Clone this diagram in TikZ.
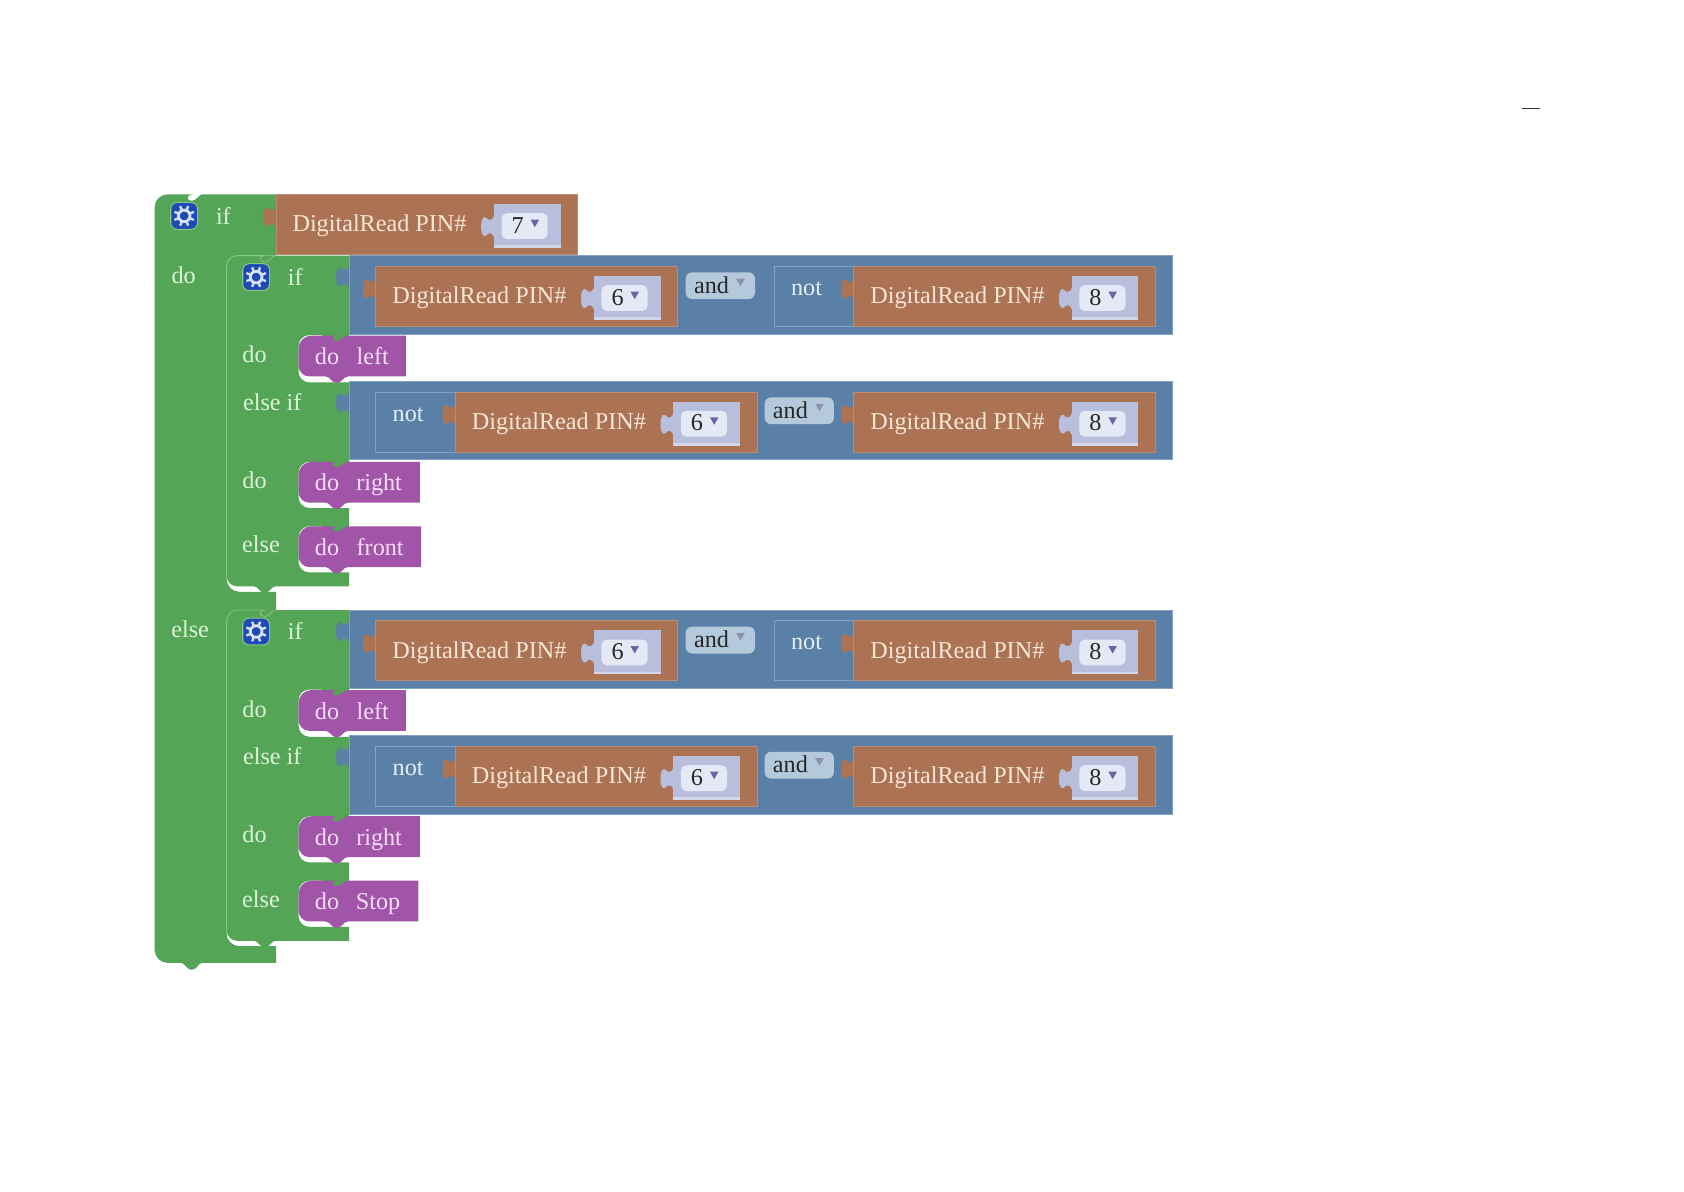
\documentclass[tikz,border=0pt]{standalone}
\usepackage{fontspec}
\setmainfont{Liberation Serif}
\definecolor{gr}{HTML}{54A556}
\definecolor{grl}{HTML}{86C586}
\definecolor{grt}{HTML}{DDF3D8}
\definecolor{bl}{HTML}{5A80A8}
\definecolor{bll}{HTML}{7FA2C6}
\definecolor{blt}{HTML}{E3EDF7}
\definecolor{br}{HTML}{AC7254}
\definecolor{brl}{HTML}{B98C74}
\definecolor{brt}{HTML}{F8E6D6}
\definecolor{pu}{HTML}{A055A8}
\definecolor{put}{HTML}{F6DDF8}
\definecolor{fld}{HTML}{B8BFDD}
\definecolor{fldl}{HTML}{D2D7EC}
\definecolor{fldw}{HTML}{E4E9F5}
\definecolor{andc}{HTML}{B5C9DC}
\definecolor{gear}{HTML}{1F49B5}
\definecolor{gearw}{HTML}{D5E2F6}
\tikzset{
  x=0.5pt,y=-0.5pt,
  lbl/.style={inner sep=0pt,anchor=base,font=\fontsize{11.26}{13}\selectfont},
  grlbl/.style={lbl,text=grt},
  brlbl/.style={lbl,anchor=base west,text=brt},
  bllbl/.style={lbl,text=blt},
  pulbl/.style={lbl,text=put},
  blklbl/.style={lbl,text=black!85},
  edge/.style={line width=0.4pt}
}
\newcommand{\vtab}[3]{% colour, x, y
  \fill[#1] (#2,#3) .. controls (#2-1,#3+4) and (#2-5,#3+5) .. (#2-7,#3+2)
     .. controls (#2-9,#3) and (#2-12,#3+1) .. (#2-12,#3+10)
     .. controls (#2-12,#3+19) and (#2-9,#3+20) .. (#2-7,#3+18)
     .. controls (#2-5,#3+15) and (#2-1,#3+16) .. (#2,#3+20) -- cycle;
}
\newcommand{\brownblk}[4]{%
  \vtab{br}{#2}{#3+11}
  \fill[br,draw=brl,edge] (#2,#3) rectangle (#2+281,#3+56);
  \node[brlbl] (#1txt) at (#2+15,#3+34.7) {DigitalRead PIN\#};
  \vtab{fld}{#2+203}{#3+20}
  \fill[fld] (#2+203,#3+9) rectangle (#2+265,#3+50);
  \fill[fldl] (#2+203,#3+47.5) rectangle (#2+265,#3+50);
  \fill[fldw,rounded corners=2.5pt] (#2+210,#3+17.5) rectangle (#2+253,#3+41.5);
  \node[blklbl] (#1val) at (#2+225,#3+36) {#4};
  \fill[black!55!blue!60!white] (#2+237,#3+23.5) -- (#2+245,#3+23.5) -- (#2+241,#3+30.5) -- cycle;
}
\newcommand{\notblk}[3]{%
  \vtab{bl}{#2}{#3+10}
  \fill[bl,draw=bll,edge] (#2,#3) rectangle (#2+74,#3+56);
  \node[bllbl] (#1txt) at (#2+30,#3+27) {not};
}
\newcommand{\andblk}[3]{%
  \fill[andc,rounded corners=3pt] (#2,#3) rectangle (#2+64.5,#3+25);
  \node[blklbl] (#1txt) at (#2+24,#3+19.5) {and};
  \fill[black!15!blue!25!gray!70] (#2+47,#3+6) -- (#2+55,#3+6) -- (#2+51,#3+13) -- cycle;
}
\newcommand{\bluebar}[2]{%
  \vtab{bl}{325}{#2+10}
  \fill[bl,draw=bll,edge] (325,#2) rectangle (1092,#2+73);
}
\newcommand{\purple}[5]{% name, y, right, text, textx
  \fill[gr] (300,#2-1) rectangle (325,#2+7);
  \fill[pu,rounded corners=6pt] (278,#2+19) -- (278,#2) -- (303,#2) [sharp corners]
    .. controls (307.5,#2) and (308.5,#2+5) .. (313.5,#2+5)
    .. controls (318.5,#2+5) and (319.5,#2) .. (324,#2)
    -- (#3,#2) -- (#3,#2+38) -- (324,#2+38)
    .. controls (319.5,#2+38) and (318.5,#2+44) .. (313.5,#2+44)
    .. controls (308.5,#2+44) and (307.5,#2+38) .. (303,#2+38)
    [rounded corners=5pt] -- (278,#2+38) -- cycle;
  \node[pulbl] (#1do) at (304.5,#2+27) {do};
  \node[pulbl] (#1txt) at (#5,#2+27) {#4};
}
\newcommand{\gearicon}[3]{%
  \node[draw=grl,fill=gear,rounded corners=3pt,minimum size=12.5pt,inner sep=0pt,line width=0.5pt] (#1) at (#2,#3) {};
  \foreach \a in {0,45,...,315}{\draw[gearw,line width=1.1pt] (#2,#3) ++(\a+22.5:6) -- ++(\a+22.5:3.8);}
  \draw[gearw,line width=1.3pt] (#2,#3) circle[radius=2.7pt];
}
\newcommand{\innerif}[4]{% prefix, last text, last right, last textx
  \fill[gr] (205,232) rectangle (225,250);
  \fill[gr,rounded corners=5pt] (211,400) -- (211,238) -- (236.5,238) [sharp corners]
    -- (325,238) -- (325,312) -- (285,312) [rounded corners=5pt] -- (278,312) -- (278,356) [sharp corners]
    -- (325,356) -- (325,430) -- (285,430) [rounded corners=5pt] -- (278,430) -- (278,473) [sharp corners]
    -- (325,473) -- (325,490) -- (285,490) [rounded corners=5pt] -- (278,490) -- (278,533) [sharp corners]
    -- (325,533) -- (325,546) -- (256.5,546)
    .. controls (252.5,546) and (251.5,552) .. (246.5,552)
    .. controls (241.5,552) and (240.5,546) .. (236.5,546)
    [rounded corners=5pt] -- (211,546) -- cycle;
  \draw[grl,edge,rounded corners=5pt] (211,536) -- (211,238) -- (236.5,238) [sharp corners]
    .. controls (240.5,238) and (241.5,244) .. (246.5,244)
    .. controls (251.5,244) and (252.5,238) .. (256.5,238);
  \gearicon{#1gear}{238.5}{258}
  \node[grlbl] (#1if) at (275,265.6) {if};
  \node[grlbl] (#1doa) at (237,337.8) {do};
  \node[grlbl] (#1elif) at (253.5,381.8) {else if};
  \node[grlbl] (#1dob) at (237,454.8) {do};
  \node[grlbl] (#1else) at (243,514.8) {else};
  \bluebar{#1a}{238}
  \brownblk{#1ab}{350}{248}{6}
  \andblk{#1aa}{638.5}{253.5}
  \notblk{#1an}{721}{248}
  \brownblk{#1ac}{795}{248}{8}
  \bluebar{#1b}{355}
  \notblk{#1bn}{350}{365}
  \brownblk{#1bb}{424}{365}{6}
  \andblk{#1ba}{712}{370}
  \brownblk{#1bc}{795}{365}{8}
  \purple{#1pa}{312.5}{378}{left}{347}
  \purple{#1pb}{430}{391}{right}{353}
  \purple{#1pc}{490}{#3}{#2}{#4}
}
\begin{document}
\begin{tikzpicture}
\useasboundingbox (0,0) rectangle (1568,1109);
\fill[white] (0,0) rectangle (1568,1109);
% outer block
\fill[gr,rounded corners=6pt] (144,500) -- (144,181) -- (168.5,181) [sharp corners]
  .. controls (172.5,181) and (173.5,187) .. (178.5,187)
  .. controls (183.5,187) and (184.5,181) .. (188.5,181)
  -- (257,181) -- (257,238) -- (220,238) [rounded corners=6pt] -- (211,238) -- (211,551) [sharp corners]
  -- (257,551) -- (257,568) -- (220,568) [rounded corners=6pt] -- (211,568) -- (211,881) [sharp corners]
  -- (257,881) -- (257,896.5) -- (188.5,896.5)
  .. controls (184.5,896.5) and (183.5,903) .. (178.5,903)
  .. controls (173.5,903) and (172.5,896.5) .. (168.5,896.5)
  [rounded corners=6pt] -- (144,896.5) -- cycle;
\gearicon{ogear}{171.5}{201}
\node[grlbl] (oif) at (208,209) {if};
\node[grlbl] (odo) at (171,264) {do};
\node[grlbl] (oelse) at (177,594) {else};
\brownblk{ob}{257}{181}{7}
\innerif{p}{front}{392}{354}
\begin{scope}[shift={(0,330)}]
\innerif{q}{Stop}{389.5}{352}
\end{scope}
% stray stroke at upper right
\coordinate (dasha) at (1417,101);
\coordinate (dashb) at (1434,101);
\draw[black!80,line width=0.5pt] (dasha) -- (dashb);
\end{tikzpicture}
\end{document}
